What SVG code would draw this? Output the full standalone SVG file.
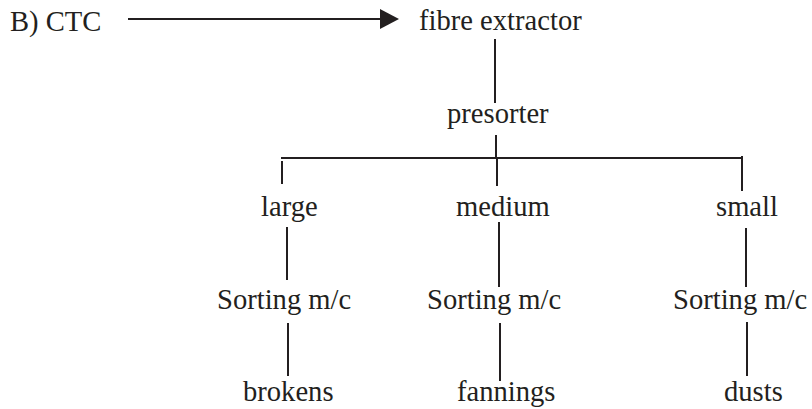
<svg xmlns="http://www.w3.org/2000/svg" width="812" height="409" viewBox="0 0 812 409">
<style>
text{font-family:"Liberation Serif","Times New Roman",serif;font-size:28.6px;fill:#231f20}
.c line{stroke:#231f20;stroke-width:2}
</style>
<rect width="812" height="409" fill="#ffffff"/>
<g id="ctc"><text x="10" y="31">B) CTC</text></g>
<g id="fibre-extractor"><text x="419" y="30">fibre extractor</text></g>
<g id="presorter"><text x="447" y="123">presorter</text></g>
<g id="large"><text x="261" y="216">large</text></g>
<g id="medium"><text x="456" y="216">medium</text></g>
<g id="small"><text x="716" y="216">small</text></g>
<g id="sort-large"><text x="217" y="309">Sorting m/c</text></g>
<g id="sort-medium"><text x="427" y="309">Sorting m/c</text></g>
<g id="sort-small"><text x="673" y="309">Sorting m/c</text></g>
<g id="brokens"><text x="243" y="401">brokens</text></g>
<g id="fannings"><text x="457" y="401">fannings</text></g>
<g id="dusts"><text x="724" y="401">dusts</text></g>
<g id="connectors" class="c">
<line x1="128" y1="19" x2="381" y2="19"/>
<polygon points="380,9 399,19 380,29" fill="#231f20"/>
<line x1="495" y1="39" x2="495" y2="103"/>
<line x1="496" y1="135" x2="496" y2="158"/>
<line x1="281" y1="158" x2="743" y2="158"/>
<line x1="282" y1="161" x2="282" y2="184"/>
<line x1="497" y1="158" x2="497" y2="186"/>
<line x1="742" y1="156" x2="742" y2="191"/>
<line x1="287" y1="227" x2="287" y2="280"/>
<line x1="288" y1="323" x2="288" y2="376"/>
<line x1="499" y1="222" x2="499" y2="287"/>
<line x1="500" y1="323" x2="500" y2="381"/>
<line x1="746" y1="228" x2="746" y2="287"/>
<line x1="747" y1="322" x2="747" y2="376"/>
</g>
</svg>
